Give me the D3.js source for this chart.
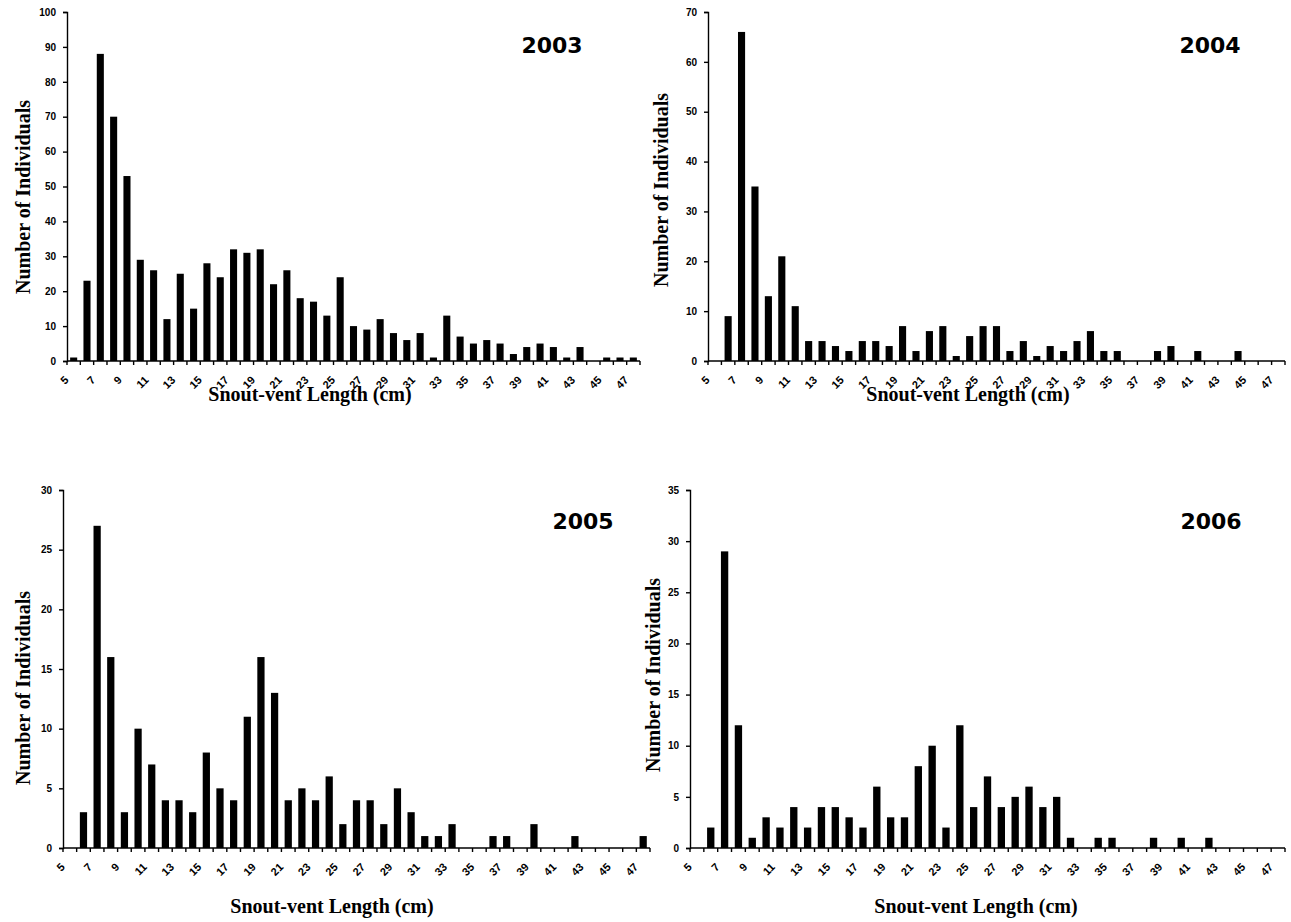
<!DOCTYPE html>
<html>
<head>
<meta charset="utf-8">
<script src="https://cdn.jsdelivr.net/npm/d3@7"></script>
<style>
  html, body { margin: 0; padding: 0; background: #fff; }
  svg { display: block; }
  .tick text { font-family: "Liberation Sans", Arial, sans-serif; font-weight: bold; font-size: 10px; fill: #000; }
  .xlab { font-family: "Liberation Sans", Arial, sans-serif; font-weight: bold; font-size: 11px; fill: #000; }
  .ytitle, .xtitle { font-family: "Liberation Serif", "Times New Roman", serif; font-weight: bold; font-size: 20px; fill: #000; }
  .year { font-family: "DejaVu Sans", Verdana, sans-serif; font-weight: bold; font-size: 22px; fill: #000; }
</style>
</head>
<body>
<svg id="chart" width="1291" height="922"></svg>
<script>
// Snout-vent length classes (cm)
const lengths = d3.range(5, 48);
const tickLabels = lengths.filter((d, i) => i % 2 === 0);

const years = ["2003", "2004", "2005", "2006"];
const counts2003 = [1,23,88,70,53,29,26,12,25,15,28,24,32,31,32,22,26,18,17,13,24,10,9,12,8,6,8,1,13,7,5,6,5,2,4,5,4,1,4,0,1,1,1];
const counts2004 = [0,9,66,35,13,21,11,4,4,3,2,4,4,3,7,2,6,7,1,5,7,7,2,4,1,3,2,4,6,2,2,0,0,2,3,0,2,0,0,2,0,0,0];
const counts2005 = [0,3,27,16,3,10,7,4,4,3,8,5,4,11,16,13,4,5,4,6,2,4,4,2,5,3,1,1,2,0,0,1,1,0,2,0,0,1,0,0,0,0,1];
const counts2006 = [0,2,29,12,1,3,2,4,2,4,4,3,2,6,3,3,8,10,2,12,4,7,4,5,6,4,5,1,0,1,1,0,0,1,0,1,0,1,0,0,0,0,0];
const yMax = [100, 70, 30, 35];
const yStep = [10, 10, 5, 5];
const yTitle = "Number of Individuals";
const xTitle = "Snout-vent Length (cm)";

const series = [counts2003, counts2004, counts2005, counts2006];

// panel layout (pixels)
const panels = [
  { x0: 67,  x1: 640,  yTop: 12,  y0: 361, ytx: 23,  yty: 197, xtx: 310, xty: 401, yrx: 552,  yry: 53 },
  { x0: 708, x1: 1285, yTop: 12,  y0: 361, ytx: 661, yty: 190, xtx: 968, xty: 401, yrx: 1210, yry: 53 },
  { x0: 63,  x1: 650,  yTop: 490, y0: 848, ytx: 23,  yty: 688, xtx: 332, xty: 913, yrx: 583,  yry: 529 },
  { x0: 690, x1: 1285, yTop: 490, y0: 848, ytx: 653, yty: 675, xtx: 976, xty: 913, yrx: 1211, yry: 529 }
];

const svg = d3.select("#chart");

panels.forEach((p, k) => {
  const g = svg.append("g");
  const data = lengths.map((L, i) => ({ L, v: series[k][i] }));

  const x = d3.scaleBand().domain(lengths).range([p.x0, p.x1]).paddingInner(0.47).paddingOuter(0.235);
  const y = d3.scaleLinear().domain([0, yMax[k]]).range([p.y0, p.yTop]);

  // bars
  g.selectAll("rect").data(data.filter(d => d.v > 0)).join("rect")
    .attr("x", d => x(d.L))
    .attr("width", x.bandwidth())
    .attr("y", d => y(d.v))
    .attr("height", d => y(0) - y(d.v))
    .attr("fill", "#000");

  // y axis
  const yAxis = d3.axisLeft(y)
    .tickValues(d3.range(0, yMax[k] + 0.001, yStep[k]))
    .tickSize(4).tickPadding(7);
  const ya = g.append("g").attr("transform", `translate(${p.x0},0)`).call(yAxis);
  ya.select(".domain").attr("stroke", "#000").attr("stroke-width", 1.4);
  ya.selectAll(".tick line").attr("stroke", "#000").attr("stroke-width", 1.4);

  // x axis: ticks between categories
  const boundaries = d3.range(lengths.length + 1).map(i => p.x0 + i * (p.x1 - p.x0) / lengths.length);
  g.append("line").attr("x1", p.x0).attr("x2", p.x1).attr("y1", p.y0).attr("y2", p.y0)
    .attr("stroke", "#000").attr("stroke-width", 1.4);
  g.selectAll("line.xt").data(boundaries).join("line").attr("class", "xt")
    .attr("x1", d => d).attr("x2", d => d).attr("y1", p.y0).attr("y2", p.y0 + 4)
    .attr("stroke", "#000").attr("stroke-width", 1.4);

  // rotated category labels (each in its own rotated group)
  const cx = d => x(d) + x.bandwidth() / 2;
  const lab = g.selectAll("g.xl").data(tickLabels).join("g").attr("class", "xl")
    .attr("transform", d => `translate(${cx(d) - 7},${p.y0 + 17})`);
  lab.append("g").attr("transform", "rotate(-45)")
    .append("text").attr("class", "xlab")
    .attr("text-anchor", "end")
    .attr("dy", "0.35em")
    .text(d => d);

  // titles
  g.append("text").attr("class", "ytitle")
    .attr("transform", `translate(${p.ytx},${p.yty}) rotate(-90)`)
    .attr("text-anchor", "middle").attr("dy", "0.35em").text(yTitle);
  g.append("text").attr("class", "xtitle")
    .attr("x", p.xtx).attr("y", p.xty).attr("text-anchor", "middle").text(xTitle);
  g.append("text").attr("class", "year")
    .attr("x", p.yrx).attr("y", p.yry).attr("text-anchor", "middle").text(years[k]);
});
</script>
</body>
</html>
